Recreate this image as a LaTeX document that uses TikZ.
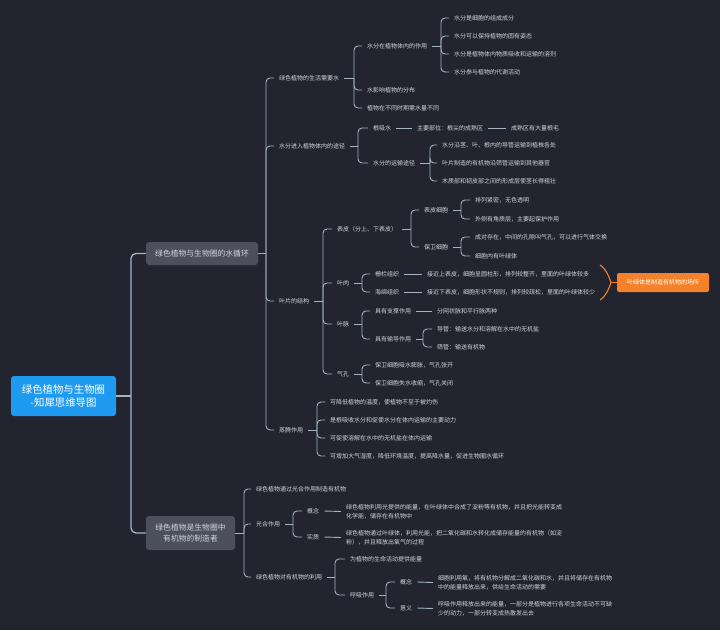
\documentclass[tikz,border=0pt]{standalone}
\usepackage{fontspec}
\newfontfamily\cjk{Noto Sans CJK SC}
\definecolor{bgc}{HTML}{22252F}
\definecolor{linec}{HTML}{A4B3C6}
\definecolor{textc}{HTML}{D2D5DC}
\definecolor{lonec}{HTML}{4C505C}
\definecolor{rootc}{HTML}{1E9BF0}
\definecolor{orc}{HTML}{F5822A}
\newcommand\fanout[3]{%
  \coordinate (tmpT) at (#2,0);
  \draw[conn] (#1.east) -- (#1.east -| tmpT);
  \foreach \c in {#3} {\draw[conn,rounded corners=4pt] (#1.east -| tmpT) |- (\c.west);}%
}
\newcommand\chainto[2]{\draw[conn] (#1.east) -- (#2.west);}
\tikzset{
  txt/.style={font=\cjk\fontsize{6}{9}\selectfont, text=textc, inner xsep=5pt, inner ysep=1pt, anchor=west, align=left},
  conn/.style={draw=linec, line width=0.9pt},
  mainconn/.style={draw=linec, line width=1.3pt},
  lonebox/.style={fill=lonec, rounded corners=3pt, font=\cjk\fontsize{7.8}{10.5}\selectfont, text=textc, align=center, inner sep=0pt},
  rootbox/.style={fill=rootc, rounded corners=3pt, font=\cjk\fontsize{10.4}{13}\selectfont, text=white, align=center, inner sep=0pt, minimum width=105pt, minimum height=40pt},
  obox/.style={fill=orc, rounded corners=2pt, font=\cjk\fontsize{6}{9}\selectfont, text=white, inner sep=0pt, minimum width=92pt, minimum height=19pt}
}
\begin{document}
\begin{tikzpicture}[x=1pt,y=-1pt]
\fill[bgc] (0,0) rectangle (720,630);
\useasboundingbox (0,0) rectangle (720,630);

% root and level 1
\node[rootbox] (root) at (63.5,396) {绿色植物与生物圈\\-知犀思维导图};
\node[lonebox, minimum width=112pt, minimum height=23pt] (A) at (202,253.5) {绿色植物与生物圈的水循环};
\node[lonebox, minimum width=89pt, minimum height=34pt] (B) at (190.5,533) {绿色植物是生物圈中\\有机物的制造者};

% level 2 under A
\node[txt] (n1) at (274,78) {绿色植物的生活需要水};
\node[txt] (n2) at (274,146) {水分进入植物体内的途径};
\node[txt] (n3) at (274,301) {叶片的结构};
\node[txt] (n4) at (274,430) {蒸腾作用};

% n1
\node[txt] (n11) at (362,46) {水分在植物体内的作用};
\node[txt] (n12) at (362,90) {水影响植物的分布};
\node[txt] (n13) at (362,108) {植物在不同时期需水量不同};
\node[txt] (n111) at (449,18) {水分是细胞的组成成分};
\node[txt] (n112) at (449,36) {水分可以保持植物的固有姿态};
\node[txt] (n113) at (449,54) {水分是植物体内物质吸收和运输的溶剂};
\node[txt] (n114) at (449,72) {水分参与植物的代谢活动};

% n2
\node[txt] (n21) at (368,128) {根吸水};
\node[txt] (n211) at (412,128) {主要部位：根尖的成熟区};
\node[txt] (n212) at (506,128) {成熟区有大量根毛};
\node[txt] (n22) at (368,163) {水分的运输途径};
\node[txt] (n221) at (437,145) {水分沿茎、叶、根内的导管运输到植株各处};
\node[txt] (n222) at (437,163) {叶片制造的有机物沿筛管运输到其他器官};
\node[txt] (n223) at (437,181) {木质部和韧皮部之间的形成层使茎长得粗壮};

% n3
\node[txt] (n31) at (332,229) {表皮（分上、下表皮）};
\node[txt] (n311) at (419,210) {表皮细胞};
\node[txt] (n3111) at (470,200) {排列紧密，无色透明};
\node[txt] (n3112) at (470,219) {外侧有角质层，主要起保护作用};
\node[txt] (n312) at (419,247) {保卫细胞};
\node[txt] (n3121) at (470,237) {成对存在，中间的孔隙叫气孔，可以进行气体交换};
\node[txt] (n3122) at (470,256) {细胞内有叶绿体};
\node[txt] (n32) at (332,283) {叶肉};
\node[txt] (n321) at (370,274) {栅栏组织};
\node[txt] (n3211) at (422,274) {接近上表皮，细胞呈圆柱形，排列较整齐，里面的叶绿体较多};
\node[txt] (n322) at (370,292) {海绵组织};
\node[txt] (n3221) at (422,292) {接近下表皮，细胞形状不规则，排列较疏松，里面的叶绿体较少};
\node[txt] (n33) at (332,324) {叶脉};
\node[txt] (n331) at (370,311) {具有支撑作用};
\node[txt] (n3311) at (432,311) {分网状脉和平行脉两种};
\node[txt] (n332) at (370,339) {具有输导作用};
\node[txt] (n3321) at (432,329) {导管：输送水分和溶解在水中的无机盐};
\node[txt] (n3322) at (432,347) {筛管：输送有机物};
\node[txt] (n34) at (332,374) {气孔};
\node[txt] (n341) at (370,365) {保卫细胞吸水膨胀，气孔张开};
\node[txt] (n342) at (370,383) {保卫细胞失水收缩，气孔关闭};

% n4
\node[txt] (n41) at (325,402) {可降低植物的温度，使植物不至于被灼伤};
\node[txt] (n42) at (325,420) {是根吸收水分和促使水分在体内运输的主要动力};
\node[txt] (n43) at (325,438) {可促使溶解在水中的无机盐在体内运输};
\node[txt] (n44) at (325,456) {可增加大气湿度，降低环境温度，提高降水量，促进生物圈水循环};

% orange callout
\node[obox] (O) at (663,282.5) {叶绿体是制造有机物的场所};
\coordinate (brtip) at (611,282.5);
\draw[draw=orc, line width=1.1pt] (600,265) .. controls (607,270) and (609,277) .. (brtip) .. controls (609,288) and (607,295) .. (600,300);
\draw[draw=orc, line width=1.1pt] (brtip) -- (O.west);

% level 2 under B
\node[txt] (m1) at (251,489) {绿色植物通过光合作用制造有机物};
\node[txt] (m2) at (251,524) {光合作用};
\node[txt] (m21) at (302,511) {概念};
\node[txt] (m211) at (341,511.5) {绿色植物利用光提供的能量，在叶绿体中合成了淀粉等有机物，并且把光能转变成\\化学能，储存在有机物中};
\node[txt] (m22) at (302,537) {实质};
\node[txt] (m221) at (341,537.5) {绿色植物通过叶绿体，利用光能，把二氧化碳和水转化成储存能量的有机物（如淀\\粉），并且释放出氧气的过程};
\node[txt] (m3) at (251,577) {绿色植物对有机物的利用};
\node[txt] (m31) at (345,559) {为植物的生命活动提供能量};
\node[txt] (m32) at (345,595) {呼吸作用};
\node[txt] (m321) at (395,582) {概念};
\node[txt] (m3211) at (433,582.5) {细胞利用氧，将有机物分解成二氧化碳和水，并且将储存在有机物\\中的能量释放出来，供给生命活动的需要};
\node[txt] (m322) at (395,608) {意义};
\node[txt] (m3221) at (433,608.5) {呼吸作用释放出来的能量，一部分是植物进行各项生命活动不可缺\\少的动力，一部分转变成热散发出去};

% connectors
\coordinate (rt) at (131,0);
\draw[mainconn] (root.east) -- (root.east -| rt);
\foreach \c in {A,B} {\draw[mainconn,rounded corners=5pt] (root.east -| rt) |- (\c.west);}
\fanout{A}{266}{n1,n2,n3,n4}
\fanout{n1}{354}{n11,n12,n13}
\fanout{n11}{441}{n111,n112,n113,n114}
\fanout{n2}{358}{n21,n22}
\chainto{n21}{n211}
\chainto{n211}{n212}
\fanout{n22}{430}{n221,n222,n223}
\fanout{n3}{323}{n31,n32,n33,n34}
\fanout{n31}{411}{n311,n312}
\fanout{n311}{461}{n3111,n3112}
\fanout{n312}{461}{n3121,n3122}
\fanout{n32}{362}{n321,n322}
\chainto{n321}{n3211}
\chainto{n322}{n3221}
\fanout{n33}{362}{n331,n332}
\chainto{n331}{n3311}
\fanout{n332}{423}{n3321,n3322}
\fanout{n34}{362}{n341,n342}
\fanout{n4}{317}{n41,n42,n43,n44}
\fanout{B}{244}{m1,m2,m3}
\fanout{m2}{293}{m21,m22}
\chainto{m21}{m211}
\chainto{m22}{m221}
\fanout{m3}{335}{m31,m32}
\fanout{m32}{386}{m321,m322}
\chainto{m321}{m3211}
\chainto{m322}{m3221}
\end{tikzpicture}
\end{document}
